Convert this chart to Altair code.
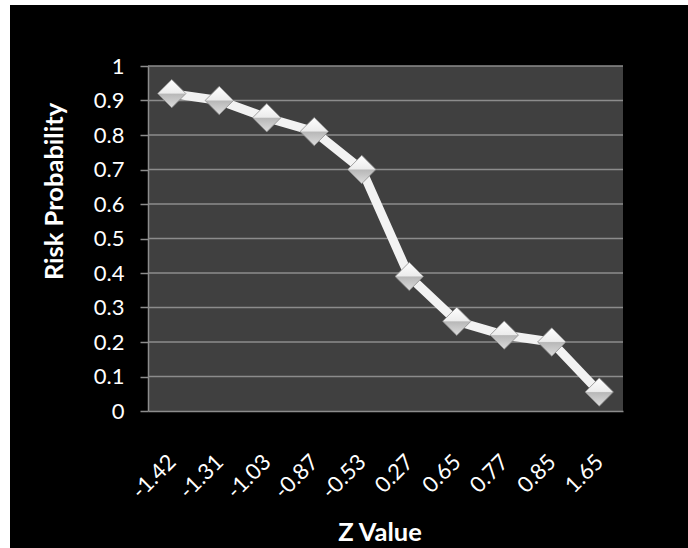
import altair as alt
import pandas as pd

z_values = ["-1.42", "-1.31", "-1.03", "-0.87", "-0.53", "0.27", "0.65", "0.77", "0.85", "1.65"]
risk_prob = [0.92, 0.90, 0.85, 0.81, 0.70, 0.39, 0.26, 0.22, 0.20, 0.055]
grid_values = [0.1, 0.2, 0.3, 0.4, 0.5, 0.6, 0.7, 0.8, 0.9, 1.0]
y_ticks = [0, 0.1, 0.2, 0.3, 0.4, 0.5, 0.6, 0.7, 0.8, 0.9, 1.0]

df = pd.DataFrame({"z": z_values, "p": risk_prob})
grid_df = pd.DataFrame({"g": grid_values})

W, H = 475, 345
GRID = "#8c8c8c"

yscale = alt.Scale(domain=[0, 1], nice=False, zero=True)
xscale = alt.Scale(type="point", padding=0.5)

one = alt.Data(values=[{}])

y_axis = alt.Axis(
    title="Risk Probability", values=y_ticks, format=".1~f", grid=False,
    tickSize=8, labelPadding=16, labelFontSize=22,
    titleAngle=-90, titleX=-94, titleY=125, titleAlign="center",
    titleBaseline="middle", zindex=2,
)

black_bg = alt.Chart(one).mark_rect(color="black").encode(
    x=alt.value(-138), x2=alt.value(540), y=alt.value(-61), y2=alt.value(482)
)
plot_bg = alt.Chart(one).mark_rect(color="#404040").encode(
    x=alt.value(0), x2=alt.value(W), y=alt.value(0), y2=alt.value(H)
)
grid = alt.Chart(grid_df).mark_rule(color=GRID, strokeWidth=1.5).encode(
    y=alt.Y("g:Q", scale=yscale, axis=y_axis)
)

x_enc = alt.X(
    "z:N", sort=None, scale=xscale,
    axis=alt.Axis(
        title="Z Value", ticks=False, labelAngle=-45, labelAlign="right",
        labelBaseline="middle", labelPadding=47, labelFontSize=22,
        titleX=W / 2 - 6, titleY=121, titleBaseline="middle", titleAlign="center",
        zindex=2, grid=False,
    ),
)
y_enc = alt.Y("p:Q", scale=yscale, axis=y_axis)

line = alt.Chart(df).mark_line(color="#f2f2f2", strokeWidth=9, strokeJoin="round").encode(
    x=x_enc, y=y_enc
)
points = alt.Chart(df).mark_point(
    shape="diamond", size=800, filled=True, opacity=1,
    fill=alt.Gradient(
        gradient="linear", x1=0, y1=0, x2=0, y2=1,
        stops=[
            alt.GradientStop(offset=0, color="#ffffff"),
            alt.GradientStop(offset=0.48, color="#ececec"),
            alt.GradientStop(offset=0.52, color="#b8b8b8"),
            alt.GradientStop(offset=1, color="#dcdcdc"),
        ],
    ),
    stroke="#8a8a8a", strokeWidth=0.8,
).encode(x=x_enc, y=y_enc)

chart = (
    alt.layer(black_bg, plot_bg, grid, line, points)
    .properties(
        width=W, height=H, background="white",
        autosize=alt.AutoSizeParams(type="none"),
        padding={"left": 148, "top": 66, "right": 65, "bottom": 137},
    )
    .configure_view(stroke=None, fill=None)
    .configure_axis(
        domainColor=GRID, domainWidth=1.5, tickColor=GRID, tickWidth=1.5,
        labelColor="white", labelFont="Lato", titleFont="Lato", titleColor="white",
        titleFontSize=25.5, titleFontWeight="bold",
    )
)

chart.save("out.html", embed_options={"renderer": "svg", "actions": False})
